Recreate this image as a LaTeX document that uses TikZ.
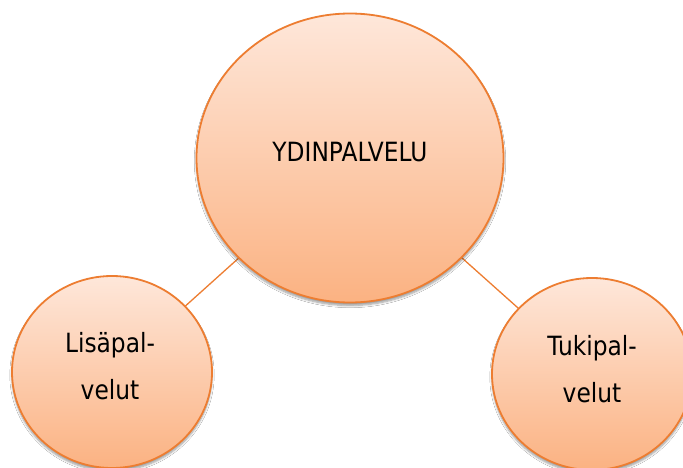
\documentclass[tikz,border=0pt]{standalone}
\usepackage{fontspec}
\setmainfont[FakeStretch=0.88]{DejaVu Sans}
\usetikzlibrary{shapes.geometric,shadows.blur,backgrounds}
\definecolor{ringorange}{RGB}{237,125,49}
\definecolor{filltop}{RGB}{254,231,218}
\definecolor{fillbot}{RGB}{251,178,130}
\tikzset{
  bubble/.style={ellipse, draw=ringorange, line width=1.8pt, inner sep=0pt,
    top color=filltop, bottom color=fillbot, align=center,
    font={\fontsize{26.5}{47}\selectfont},
    blur shadow={shadow xshift=0pt, shadow yshift=-3pt, shadow blur steps=6, shadow opacity=40}},
  linkline/.style={draw=ringorange, line width=1.3pt}
}
\begin{document}
\begin{tikzpicture}[x=1pt,y=-1pt]
\useasboundingbox (0,0) rectangle (683,468);
\node[bubble, minimum width=307pt, minimum height=289pt] (core) at (350,158) {};
\node at (350,152) (coretext) {\fontsize{26.5}{47}\selectfont YDINPALVELU};
\node[bubble, minimum width=200pt, minimum height=192pt] (lisa) at (112,372) {};
\node[align=center, font={\fontsize{26.5}{47}\selectfont}] (lisatext) at (110,366) {Lisäpal-\\velut};
\node[bubble, minimum width=200pt, minimum height=192pt] (tuki) at (592,374) {};
\node[align=center, font={\fontsize{26.5}{47}\selectfont}] (tukitext) at (592,369) {Tukipal-\\velut};
\begin{pgfonlayer}{background}
\fill[white] (0,0) rectangle (683,468);
\draw[linkline] (core.center) -- (lisa.center);
\draw[linkline] (core.center) -- (tuki.center);
\end{pgfonlayer}
\end{tikzpicture}
\end{document}
